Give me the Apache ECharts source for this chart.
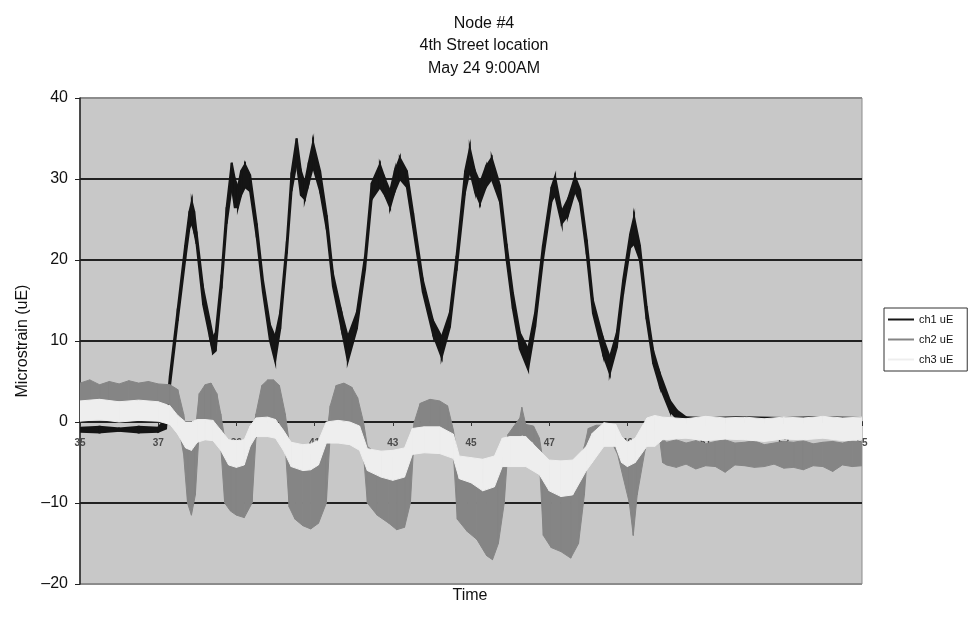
<!DOCTYPE html>
<html><head><meta charset="utf-8">
<script src="https://cdn.jsdelivr.net/npm/echarts@6/dist/echarts.min.js"></script>
<style>html,body{margin:0;padding:0;background:#fff}#c{width:968px;height:617px}</style>
</head><body><div id="c"></div>
<script>
const titleLines = ['Node #4', '4th Street location', 'May 24 9:00AM'];
const xName = 'Time';
const yName = 'Microstrain (uE)';
const seriesNames = ['ch1 uE', 'ch2 uE', 'ch3 uE'];

// [time, upper edge of noisy trace, lower edge of noisy trace]
const ch1 = [[35,-0.7,-1.2],[35.5,-0.6,-1.3],[36,-0.8,-1.1],[36.5,-0.6,-1.3],[37,-0.7,-1.2],[37.2,0.5,-0.8],[37.3,5.8,4.4],[37.5,14,12.5],[37.69,21.8,20],[37.8,26,24],[37.86,27.2,24.5],[37.92,26,23.5],[37.98,23.5,22],[38.15,16.5,14.5],[38.32,12.5,10.5],[38.4,10.5,8.5],[38.47,11,8.8],[38.62,18.2,16.5],[38.75,26.5,24.5],[38.88,32,29],[38.96,30,26.5],[39.04,29,26.5],[39.12,31,28],[39.22,31.8,29],[39.35,30.5,28.5],[39.52,24.5,22.8],[39.68,17.5,16],[39.86,12,10],[39.99,10.5,7.5],[40.12,13.5,11.5],[40.29,22.3,20.8],[40.41,30.8,28.5],[40.54,35,32],[40.65,31,28],[40.75,29.5,27.5],[40.85,32,29.5],[40.96,34.5,31.5],[41.14,31,28.5],[41.31,25.5,23.8],[41.47,18.3,16.7],[41.69,13.5,11.5],[41.85,10.5,7.5],[42.08,13.5,11.5],[42.29,20.5,18.8],[42.46,29.5,27.5],[42.67,31.8,29],[42.8,30,28],[42.93,28.5,26.5],[43.05,31,28.5],[43.18,32.6,30],[43.36,31,29],[43.52,25.8,24],[43.77,17.5,16],[44.03,12.5,10.8],[44.25,10.5,8],[44.46,13.5,11.7],[44.63,20.5,18.7],[44.85,31,28.5],[44.97,33.8,31],[45.1,31,28.5],[45.23,29.5,27],[45.38,31.5,29],[45.53,32.6,30],[45.74,29.2,27.2],[45.91,22,20],[46.07,16,14],[46.25,11,9],[46.46,9,6.5],[46.64,13.5,11.7],[46.84,21.8,20],[47.06,29,27.3],[47.15,30.3,28],[47.32,26,24.5],[47.48,27.5,25.5],[47.66,30.3,28.5],[47.79,28.7,27],[47.96,22.5,20.7],[48.12,15,13.4],[48.38,10.3,8.3],[48.55,8,6],[48.73,11,9.2],[48.89,17.5,15.8],[49.07,23.2,21.5],[49.17,25.3,22],[49.32,21.8,20],[49.49,14.3,12.7],[49.66,8.8,7.2],[49.83,6,4.4],[50.09,2.6,1.3],[50.27,1.4,0.4],[50.5,0.6,0],[51,0.5,-0.1],[52,0.6,0],[53,0.5,-0.1],[54,0.6,0],[55,0.5,0]];

const ch2 = [[35,4.8,2.6],[35.25,5.2,2.3],[35.5,4.6,2.7],[35.75,5.0,2.4],[36,4.7,2.6],[36.25,5.1,2.5],[36.5,4.8,2.3],[36.75,5.0,2.6],[37,4.7,2.4],[37.3,4.6,2.2],[37.5,4.0,0.0],[37.65,1.0,-4],[37.75,-2,-10],[37.85,-3,-11.5],[37.95,-1,-9],[38.05,3.5,-1],[38.2,4.6,0],[38.35,4.8,0.2],[38.5,3.5,-0.5],[38.6,1,-3],[38.7,-2,-10],[38.85,-3,-11],[39.0,-3.5,-11.5],[39.2,-3.5,-11.8],[39.4,-2,-10],[39.5,1,-2],[39.65,4.5,0],[39.8,5.2,0.3],[39.95,5.2,0.3],[40.1,4.5,0],[40.25,1,-3],[40.35,-2.5,-10.5],[40.5,-3.5,-12],[40.7,-4,-12.8],[40.9,-4,-13.2],[41.1,-3.5,-12.5],[41.3,-2,-10],[41.4,2,-1.5],[41.55,4.5,0.2],[41.75,4.8,0.2],[41.95,4.3,-0.3],[42.1,3,-1],[42.25,0,-4],[42.35,-3,-10],[42.6,-4,-11.5],[42.9,-4.5,-12.5],[43.1,-4.5,-13.3],[43.3,-4,-13],[43.45,-3,-10],[43.55,0,-1.5],[43.7,2.3,-0.8],[43.95,2.8,-0.8],[44.2,2.6,-0.8],[44.4,2.0,-1.5],[44.55,-1,-4],[44.65,-4,-12],[44.9,-5,-13.5],[45.15,-5.5,-14.5],[45.4,-6,-16.5],[45.55,-6,-17],[45.7,-5.5,-15],[45.85,-4,-10],[45.95,-1.5,-3],[46.1,-0.5,-2],[46.25,0.5,-2],[46.3,1.8,-1.5],[46.4,-0.3,-2],[46.6,-0.5,-2.5],[46.75,-2,-5],[46.85,-5,-14],[47.05,-5.5,-15.5],[47.3,-5,-16],[47.55,-5.5,-16.8],[47.75,-5,-15],[47.9,-3,-9],[48.0,-0.8,-2.5],[48.2,-0.4,-1.8],[48.4,-0.4,-2.2],[48.6,-0.8,-2.5],[48.75,-2,-4],[48.9,-3,-7],[49.05,-4,-10],[49.15,-4,-14],[49.25,-3.5,-9],[49.45,-1.5,-3.5],[49.6,0.5,-1],[49.8,0.5,-1.2],[49.9,-2,-5],[50,-2.5,-5.3],[50.25,-2.2,-5.6],[50.5,-2.6,-5.2],[50.75,-2.3,-5.8],[51,-2.7,-5.4],[51.25,-2.4,-5.5],[51.5,-2.2,-6.2],[51.75,-2.6,-5.3],[52,-2.5,-5.4],[52.25,-2.3,-5.6],[52.5,-2.8,-5.5],[52.75,-2.6,-5.2],[53,-2.4,-5.7],[53.25,-2.5,-5.6],[53.5,-2.3,-5.9],[53.75,-2.7,-5.4],[54,-2.5,-5.5],[54.25,-2.4,-6.1],[54.5,-2.6,-5.3],[54.75,-2.3,-5.5],[55,-2.5,-5.4]];

const ch3 = [[35,2.6,0.1],[35.5,2.8,0.3],[36,2.5,0.0],[36.5,2.7,0.2],[37,2.5,0.1],[37.3,2.0,-0.3],[37.5,0.8,-1.5],[37.7,0,-3.2],[37.85,0,-3.5],[38.0,0.3,-2.5],[38.2,0.3,-2.2],[38.4,0.2,-2.3],[38.6,-1,-3.5],[38.8,-2.2,-5.3],[39.0,-2.3,-5.6],[39.2,-2.2,-5.3],[39.35,-0.5,-3],[39.5,0.5,-1.8],[39.8,0.6,-1.8],[40.0,0.3,-2],[40.2,-1,-3.5],[40.4,-2.5,-5.5],[40.7,-2.8,-6],[40.9,-2.7,-5.9],[41.1,-2.3,-5.3],[41.3,0,-2.6],[41.6,0.2,-2.6],[41.9,0,-2.8],[42.15,-0.5,-3.5],[42.35,-3.3,-6],[42.7,-3.6,-6.8],[43.0,-3.5,-7.2],[43.3,-3.2,-6.8],[43.5,-0.8,-4],[43.8,-0.6,-3.8],[44.2,-0.6,-3.9],[44.55,-1.5,-4.5],[44.7,-4.2,-7],[45.0,-4.4,-7.5],[45.3,-4.6,-8.5],[45.6,-4.2,-8],[45.8,-2,-5.5],[46.0,-1.8,-5.5],[46.4,-1.8,-5.5],[46.75,-3.5,-6.5],[47.0,-4.7,-8.5],[47.3,-4.8,-9.2],[47.6,-4.7,-9],[47.95,-3,-6],[48.1,-1.4,-5],[48.4,-0.1,-3],[48.7,-0.3,-3],[48.85,-1.8,-5],[49.0,-2.5,-5.5],[49.2,-2,-5],[49.5,0.5,-3],[49.7,0.8,-3],[49.9,0.6,-2.2],[50.5,0.4,-2.0],[51,0.7,-2.3],[51.5,0.5,-2.1],[52,0.6,-2.2],[52.5,0.4,-2.4],[53,0.6,-2.1],[53.5,0.5,-2.2],[54,0.7,-2.0],[54.5,0.5,-2.3],[55,0.6,-2.2]];

const FONT = '"Liberation Sans", Arial, Helvetica, sans-serif';

function toSegments(arr) {
  const out = [];
  for (let i = 0; i < arr.length - 1; i++) {
    out.push([arr[i][0], arr[i][1], arr[i][2], arr[i + 1][0], arr[i + 1][1], arr[i + 1][2]]);
  }
  return out;
}
function bandRender(color, lw) {
  return function (params, api) {
    const a = api.coord([api.value(0), api.value(1)]);
    const b = api.coord([api.value(3), api.value(4)]);
    const c = api.coord([api.value(3), api.value(5)]);
    const d = api.coord([api.value(0), api.value(2)]);
    return { type: 'polygon', shape: { points: [a, b, c, d] },
      style: { fill: color, stroke: color, lineWidth: lw } };
  };
}
function bandSeries(name, arr, color, lw) {
  return {
    name: name, type: 'custom', renderItem: bandRender(color, lw),
    data: toSegments(arr), encode: { x: [0, 3], y: [1, 2, 4, 5] },
    itemStyle: { color: color }, clip: true, silent: true
  };
}

const GRID = { left: 80, right: 106, top: 98, bottom: 33 };
const Y_MIN = -20, Y_MAX = 40;
const plotH = 617 - GRID.top - GRID.bottom;
// move the x axis (line, ticks, labels) up to the y = 0 level
const xAxisOffset = -plotH * (0 - Y_MIN) / (Y_MAX - Y_MIN);

const chart = echarts.init(document.getElementById('c'), null, { renderer: 'canvas' });
chart.setOption({
  animation: false,
  backgroundColor: '#ffffff',
  textStyle: { fontFamily: FONT },
  title: {
    text: titleLines.join('\n'), left: 'center', top: 7,
    textStyle: { fontSize: 16, fontWeight: 'normal', color: '#111', lineHeight: 22.5, fontFamily: FONT }
  },
  graphic: [{
    type: 'text', x: 470, y: 596,
    style: { text: xName, fontSize: 16, fill: '#111', font: '16px ' + FONT, textAlign: 'center', textVerticalAlign: 'middle' }
  }],
  legend: {
    orient: 'vertical', left: 884, top: 308,
    data: seriesNames.map(n => ({ name: n, icon: 'rect' })),
    itemWidth: 26, itemHeight: 2, itemGap: 9,
    borderColor: '#333', borderWidth: 1, padding: [6, 14, 6, 4],
    textStyle: { fontSize: 11, color: '#111', fontFamily: FONT }
  },
  grid: Object.assign({ show: true, backgroundColor: '#c8c8c8', borderColor: '#8c8c8c', borderWidth: 1 }, GRID),
  xAxis: {
    type: 'value', min: 35, max: 55, interval: 2, position: 'bottom', offset: xAxisOffset,
    axisLine: { show: true, onZero: false, lineStyle: { color: '#222', width: 2 } },
    axisTick: { show: true, length: 4, lineStyle: { color: '#333' } },
    axisLabel: { fontSize: 10, fontWeight: 'bold', color: '#4a4a4a', margin: 16, showMinLabel: true, showMaxLabel: true },
    splitLine: { show: false }
  },
  yAxis: {
    type: 'value', min: Y_MIN, max: Y_MAX, interval: 10,
    name: yName, nameLocation: 'middle', nameGap: 48, nameRotate: 90,
    nameTextStyle: { fontSize: 16, color: '#111', fontFamily: FONT },
    axisLine: { show: true, lineStyle: { color: '#222', width: 1.5 } },
    axisTick: { show: true, length: 5, lineStyle: { color: '#222' } },
    axisLabel: { fontSize: 16, color: '#111', margin: 12, formatter: v => String(v).replace('-', '\u2013') },
    splitLine: { show: true, lineStyle: { color: ['#8c8c8c', '#222', '#222', '#222', '#222', '#222', '#8c8c8c'], width: 2 } }
  },
  series: [
    bandSeries(seriesNames[0], ch1, '#151515', 2),
    bandSeries(seriesNames[1], ch2, '#858585', 1),
    bandSeries(seriesNames[2], ch3, '#eeeeee', 1)
  ]
});
</script></body></html>
